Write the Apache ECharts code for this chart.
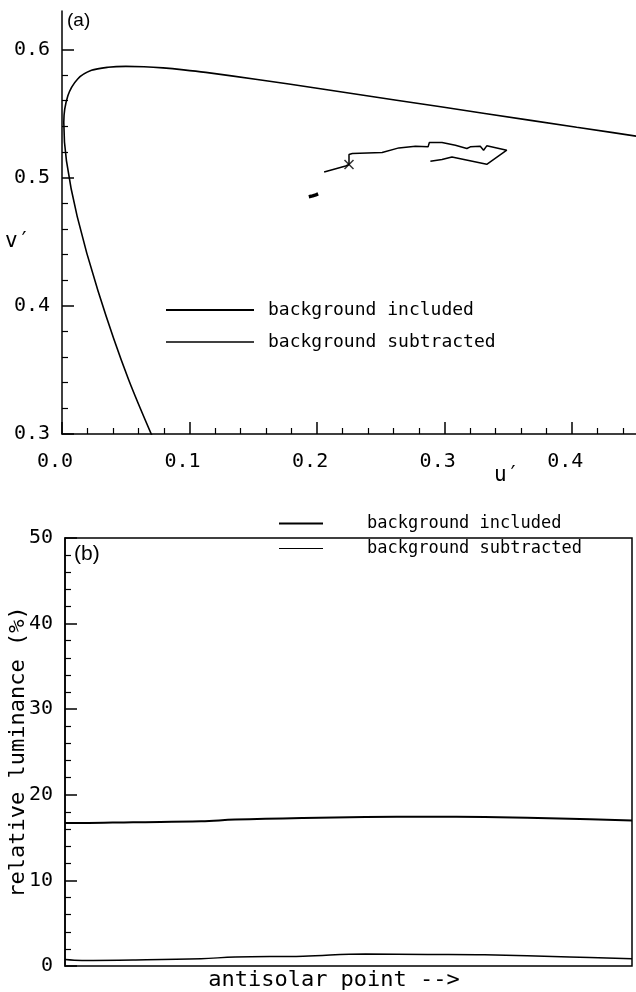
<!DOCTYPE html>
<html>
<head>
<meta charset="utf-8">
<script src="https://cdn.jsdelivr.net/npm/echarts@6/dist/echarts.min.js"></script>
<style>
  html, body { margin: 0; padding: 0; background: #fff; }
  #chart { width: 636px; height: 992px; }
</style>
</head>
<body>
<div id="chart"></div>
<script>
// (a) chromaticity diagram u' v'
const locusU = [0.0828, 0.0521, 0.0282, 0.0119, 0.0035, 0.0014, 0.0046, 0.0123, 0.0231, 0.0360, 0.0501, 0.0643, 0.0792, 0.0953, 0.1127, 0.1531, 0.2026, 0.2623, 0.3315, 0.4035, 0.4692];
const locusV = [0.2708, 0.3427, 0.4117, 0.4698, 0.5131, 0.5432, 0.5638, 0.5770, 0.5837, 0.5861, 0.5868, 0.5865, 0.5856, 0.5841, 0.5821, 0.5766, 0.5694, 0.5604, 0.5501, 0.5393, 0.5296];

const inclU = [0.1935, 0.1965, 0.1990, 0.2008];
const inclV = [0.4851, 0.4858, 0.4866, 0.4873];

const subU = [0.2055, 0.2224, 0.2250, 0.2250, 0.2276, 0.2510, 0.2641, 0.2771, 0.2870, 0.2880, 0.2979, 0.3084, 0.3174, 0.3201, 0.3279, 0.3305, 0.3330, 0.3487, 0.3330, 0.3057, 0.2979, 0.2888];
const subV = [0.5044, 0.5091, 0.5102, 0.5180, 0.5188, 0.5196, 0.5232, 0.5245, 0.5240, 0.5274, 0.5274, 0.5253, 0.5227, 0.5240, 0.5245, 0.5214, 0.5248, 0.5214, 0.5104, 0.5161, 0.5141, 0.5127];

const markU = [0.2250];
const markV = [0.5102];

const uTicks = [0, 0.1, 0.2, 0.3, 0.4];
const uMinor = [0.02, 0.04, 0.06, 0.08, 0.12, 0.14, 0.16, 0.18, 0.22, 0.24, 0.26, 0.28, 0.32, 0.34, 0.36, 0.38, 0.42, 0.44];
const vTicks = [0.3, 0.4, 0.5, 0.6];
const vMinor = [0.32, 0.34, 0.36, 0.38, 0.42, 0.44, 0.46, 0.48, 0.52, 0.54, 0.56, 0.58];

// (b) relative luminance along the scan
const scanPos = [0, 3, 12, 24, 30, 42, 53, 64, 74, 89, 100];
const lumIncl = [16.7, 16.7, 16.8, 16.9, 17.1, 17.3, 17.4, 17.45, 17.4, 17.2, 17.0];
const lumSub = [0.75, 0.65, 0.7, 0.85, 1.05, 1.15, 1.4, 1.35, 1.3, 1.05, 0.85];

const MONO = '"DejaVu Sans Mono", "Liberation Mono", monospace';
const zip = (a, b) => a.map((v, i) => [v, b[i]]);

const chart = echarts.init(document.getElementById('chart'));

const tickLabel = {
    color: '#000',
    fontFamily: MONO,
    fontSize: 20
};

chart.setOption({
    animation: false,
    backgroundColor: '#fff',
    grid: [
        {left: 62, top: 11, width: 576, height: 423},
        {left: 65, top: 538, width: 567, height: 428, show: true, borderColor: '#000', borderWidth: 1.5}
    ],
    legend: [
        {
            orient: 'vertical',
            left: 165,
            top: 301,
            padding: 0,
            itemWidth: 88,
            itemHeight: 18,
            itemGap: 14,
            itemStyle: {opacity: 0},
            textStyle: {fontFamily: MONO, fontSize: 18, color: '#000', lineHeight: 18, padding: [0, 0, 0, 9]},
            data: [
                {name: 'background included', lineStyle: {width: 2}},
                {name: 'background subtracted', lineStyle: {width: 1.5}}
            ]
        },
        {
            orient: 'vertical',
            left: 278,
            top: 515,
            padding: 0,
            itemWidth: 44,
            itemHeight: 17,
            itemGap: 8,
            itemStyle: {opacity: 0},
            textStyle: {fontFamily: MONO, fontSize: 17, color: '#000', lineHeight: 17, padding: [0, 0, 0, 39]},
            data: [
                {name: 'background included', lineStyle: {width: 2}},
                {name: 'background subtracted', lineStyle: {width: 1.2}}
            ]
        }
    ],
    xAxis: [
        {
            gridIndex: 0, type: 'value', min: 0, max: 0.45, interval: 0.1,
            axisLine: {lineStyle: {color: '#000', width: 1.5}},
            axisTick: {inside: true, length: 12, customValues: uTicks, lineStyle: {color: '#000', width: 1.5}},
            axisLabel: Object.assign({}, tickLabel, {
                customValues: uTicks, margin: 18, padding: [0, 14, 0, 0],
                formatter: v => v.toFixed(1)
            }),
            splitLine: {show: false}
        },
        {
            gridIndex: 0, type: 'value', min: 0, max: 0.45, position: 'bottom',
            axisLine: {show: false},
            axisTick: {inside: true, length: 6, customValues: uMinor, lineStyle: {color: '#000', width: 1.2}},
            axisLabel: {show: false},
            splitLine: {show: false}
        },
        {
            gridIndex: 1, type: 'value', min: 0, max: 100,
            axisLine: {show: false},
            axisTick: {show: false},
            axisLabel: {show: false},
            splitLine: {show: false}
        }
    ],
    yAxis: [
        {
            gridIndex: 0, type: 'value', min: 0.3, max: 0.63, interval: 0.1,
            axisLine: {show: true, lineStyle: {color: '#000', width: 1.5}},
            axisTick: {show: true, inside: true, length: 12, customValues: vTicks, lineStyle: {color: '#000', width: 1.5}},
            axisLabel: Object.assign({}, tickLabel, {
                customValues: vTicks, margin: 12,
                formatter: v => v.toFixed(1)
            }),
            splitLine: {show: false}
        },
        {
            gridIndex: 0, type: 'value', min: 0.3, max: 0.63, position: 'left',
            axisLine: {show: false},
            axisTick: {show: true, inside: true, length: 6, customValues: vMinor, lineStyle: {color: '#000', width: 1.2}},
            axisLabel: {show: false},
            splitLine: {show: false}
        },
        {
            gridIndex: 1, type: 'value', min: 0, max: 50, interval: 10,
            axisLine: {show: true, lineStyle: {color: '#000', width: 1.5}},
            axisTick: {show: true, inside: true, length: 12, lineStyle: {color: '#000', width: 1.5}},
            minorTick: {show: true, splitNumber: 5, length: 6, lineStyle: {color: '#000', width: 1.2}},
            axisLabel: Object.assign({}, tickLabel, {margin: 12}),
            splitLine: {show: false}
        }
    ],
    graphic: [
        {type: 'text', x: 67, y: 11, style: {text: '(a)', fill: '#000', fontSize: 19, fontFamily: '"Liberation Sans Narrow", "Liberation Sans", sans-serif'}},
        {type: 'text', x: 74, y: 544, style: {text: '(b)', fill: '#000', fontSize: 21, fontFamily: '"Liberation Sans Narrow", "Liberation Sans", sans-serif'}},
        {type: 'text', x: 5, y: 231, style: {text: 'v′', fill: '#000', fontSize: 21, fontFamily: MONO}},
        {type: 'text', x: 494, y: 465, style: {text: 'u′', fill: '#000', fontSize: 21, fontFamily: MONO}},
        {type: 'text', x: 18, y: 752, rotation: Math.PI / 2,
         style: {text: 'relative luminance (%)', fill: '#000', fontSize: 22, fontFamily: MONO, align: 'center', verticalAlign: 'middle'}},
        {type: 'text', x: 334, y: 980,
         style: {text: 'antisolar point -->', fill: '#000', fontSize: 22, fontFamily: MONO, align: 'center', verticalAlign: 'middle'}}
    ],
    series: [
        {
            name: 'spectrum locus', type: 'line', xAxisIndex: 0, yAxisIndex: 0,
            data: zip(locusU, locusV), symbol: 'none', smooth: 0.3, clip: true,
            lineStyle: {color: '#000', width: 1.6}
        },
        {
            name: 'background included', type: 'line', xAxisIndex: 0, yAxisIndex: 0,
            data: zip(inclU, inclV), symbol: 'none', clip: true,
            lineStyle: {color: '#000', width: 3.5}, itemStyle: {color: '#000'}
        },
        {
            name: 'background subtracted', type: 'line', xAxisIndex: 0, yAxisIndex: 0,
            data: zip(subU, subV), symbol: 'none', clip: true,
            lineStyle: {color: '#000', width: 1.5}, itemStyle: {color: '#000'}
        },
        {
            name: 'start', type: 'scatter', xAxisIndex: 0, yAxisIndex: 0,
            data: zip(markU, markV),
            symbol: 'path://M0,0L10,10M10,0L0,10', symbolSize: 9,
            itemStyle: {color: 'transparent', borderColor: '#000', borderWidth: 1.5}
        },
        {
            name: 'background included', type: 'line', xAxisIndex: 2, yAxisIndex: 2,
            data: zip(scanPos, lumIncl), symbol: 'none', smooth: 0.4,
            lineStyle: {color: '#000', width: 2}, itemStyle: {color: '#000'}
        },
        {
            name: 'background subtracted', type: 'line', xAxisIndex: 2, yAxisIndex: 2,
            data: zip(scanPos, lumSub), symbol: 'none', smooth: 0.4,
            lineStyle: {color: '#000', width: 1.5}, itemStyle: {color: '#000'}
        }
    ]
});
</script>
</body>
</html>
